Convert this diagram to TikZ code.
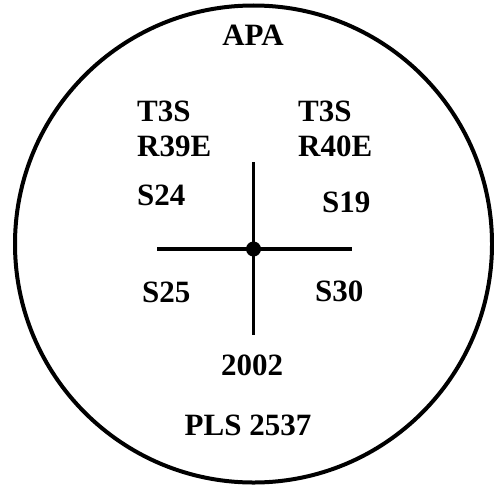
\documentclass[tikz,border=0pt]{standalone}
\usepackage{fontspec}
\setmainfont{Liberation Serif}
\begin{document}
\begin{tikzpicture}[x=1pt,y=-1pt,
  lbl/.style={inner sep=0pt,font=\fontsize{31}{33}\selectfont\bfseries},
  rule/.style={line width=3.5pt}]
\useasboundingbox (0,0) rectangle (494,487);
\node[draw,circle,line width=4pt,minimum size=477pt,inner sep=0pt] (ring) at (253.5,244) {};
\node[lbl] (apa) at (253,35) {APA};
\node[lbl,anchor=west] (t3sl) at (137,111) {T3S};
\node[lbl,anchor=west] (r39e) at (137,146) {R39E};
\node[lbl,anchor=west] (t3sr) at (298,111) {T3S};
\node[lbl,anchor=west] (r40e) at (298,146) {R40E};
\node[lbl,anchor=west] (s24) at (137,195) {S24};
\node[lbl,anchor=west] (s19) at (322,202) {S19};
\node[lbl,anchor=west] (s25) at (142,292) {S25};
\node[lbl,anchor=west] (s30) at (315,291) {S30};
\node[lbl] (y2002) at (252,365) {2002};
\node[lbl] (pls) at (248,425) {PLS 2537};
\coordinate (c) at (253.5,249);
\coordinate (top) at (253.5,162);
\coordinate (bot) at (253.5,335);
\coordinate (lft) at (157,249);
\coordinate (rgt) at (352,249);
\draw[rule] (top) -- (bot);
\draw[rule] (lft) -- (rgt);
\fill (c) circle (7.5pt);
\end{tikzpicture}
\end{document}
